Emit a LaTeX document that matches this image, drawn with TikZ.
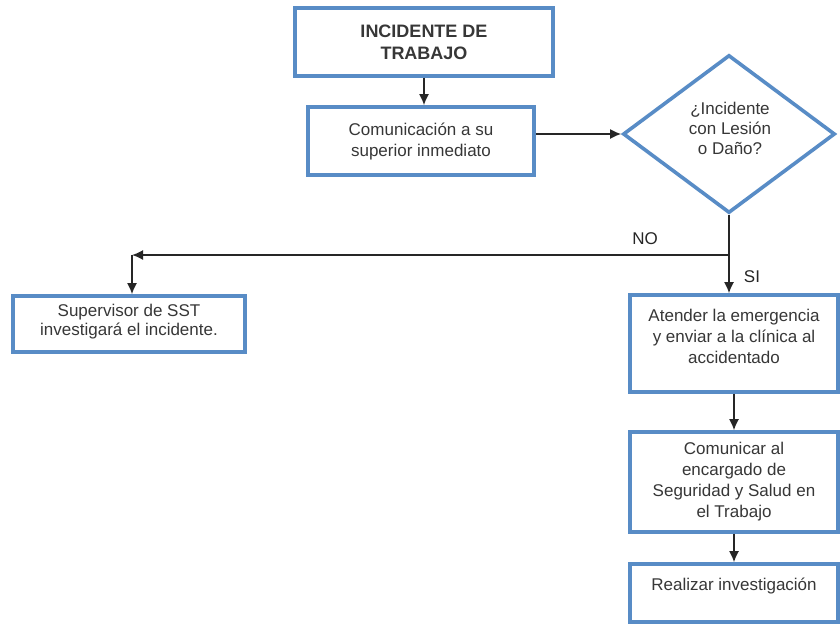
\documentclass[tikz,border=0pt]{standalone}
\usepackage{fontspec}
\setmainfont{Liberation Sans}
\usetikzlibrary{shapes.geometric,arrows.meta}
\definecolor{boxblue}{RGB}{88,140,198}
\definecolor{txt}{RGB}{55,55,55}
\tikzset{
  flowbox/.style={draw=boxblue, line width=3.6pt, rectangle, fill=white, inner sep=0pt,
    align=center, text=txt, font=\fontsize{17}{21}\selectfont},
  decbox/.style={draw=boxblue, line width=3.6pt, diamond, fill=white, inner sep=0pt,
    align=center, text=txt, minimum width=212pt, minimum height=158pt},
  conn/.style={line width=1.6pt, draw=black!85, -{Latex[length=11pt,width=10pt]}},
  lbl/.style={text=black!85, font=\fontsize{17}{20}\selectfont, inner sep=0pt},
  inner/.style={text=txt, align=center, inner sep=0pt}
}
\begin{document}
\begin{tikzpicture}[x=1pt,y=-1pt]
\useasboundingbox[fill=white] (0,0) rectangle (840,625);
\node[flowbox, minimum width=258pt, minimum height=68pt, font=\bfseries\fontsize{18}{22}\selectfont] (inc) at (424,42) {INCIDENTE DE\\TRABAJO};
\node[flowbox, minimum width=226pt, minimum height=68pt] (com) at (421,141) {Comunicación a su\\superior inmediato};
\node[decbox] (dia) at (729,134) {};
\node[inner, font=\fontsize{17}{20}\selectfont] (diat) at (730,128) {¿Incidente\\con Lesión\\o Daño?};
\node[flowbox, minimum width=232pt, minimum height=56pt] (sup) at (129,324) {};
\node[inner, font=\fontsize{17}{19}\selectfont] (supt) at (129,322) {Supervisor de SST\\investigará el incidente.};
\node[flowbox, minimum width=208pt, minimum height=97pt] (ate) at (734,343.5) {};
\node[inner, font=\fontsize{17}{21}\selectfont] (atet) at (734,336) {Atender la emergencia\\y enviar a la clínica al\\accidentado};
\node[flowbox, minimum width=208pt, minimum height=100pt] (enc) at (734,482) {Comunicar al\\encargado de\\Seguridad y Salud en\\el Trabajo};
\node[flowbox, minimum width=208pt, minimum height=58pt] (rea) at (734,593) {};
\node[inner, font=\fontsize{17}{21}\selectfont] (reat) at (734,586) {Realizar investigación};
\coordinate (split) at (dia.south |- 0,255);
\coordinate (nojoint) at (132,255);
\node[lbl] (no) at (645,239) {NO};
\node[lbl] (si) at (752,277) {SI};
\draw[conn] (inc.south -| 424,0) -- (com.north -| 424,0);
\draw[conn] (com.east |- dia.west) -- (dia.west);
\draw[conn] (dia.south) -- (dia.south |- ate.north);
\draw[conn] (split) -- (nojoint);
\draw[conn] (nojoint) -- (nojoint |- sup.north);
\draw[conn] (ate.south) -- (enc.north);
\draw[conn] (enc.south) -- (rea.north);
\end{tikzpicture}
\end{document}
